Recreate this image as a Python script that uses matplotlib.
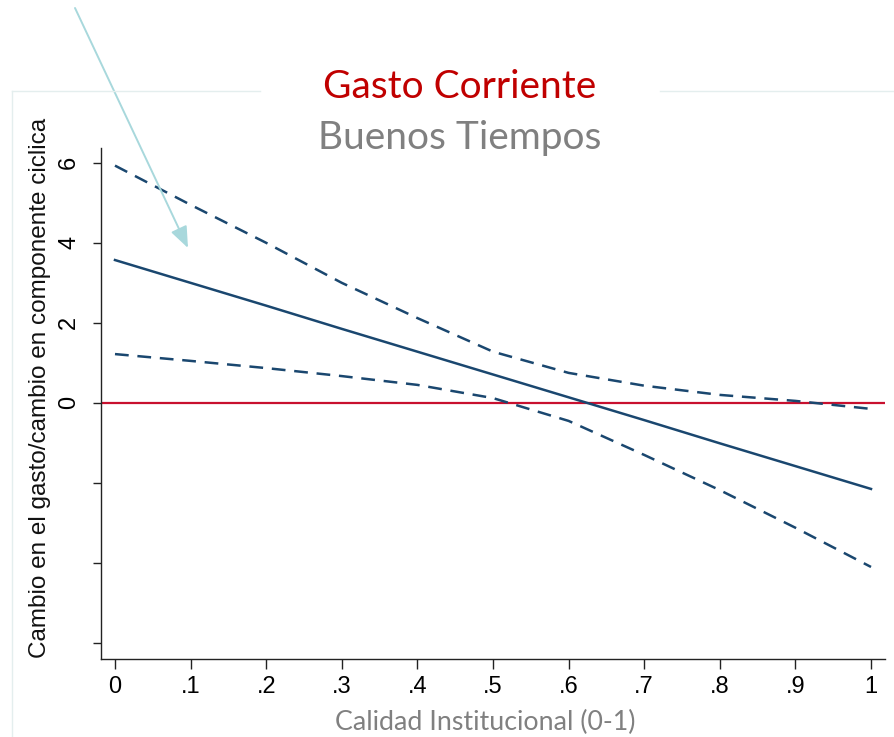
import matplotlib
matplotlib.use("Agg")
import matplotlib.pyplot as plt
from matplotlib.lines import Line2D
from matplotlib.patches import FancyArrowPatch

# Marginal effect of the cyclical component on current spending
calidad = [0.0, 0.1, 0.2, 0.3, 0.4, 0.5, 0.6, 0.7, 0.8, 0.9, 1.0]
efecto = [3.57, 3.00, 2.43, 1.85, 1.28, 0.71, 0.14, -0.43, -1.01, -1.58, -2.15]
ic_sup = [5.93, 4.95, 4.00, 3.00, 2.12, 1.28, 0.75, 0.43, 0.20, 0.05, -0.15]
ic_inf = [1.22, 1.05, 0.87, 0.67, 0.45, 0.12, -0.45, -1.30, -2.18, -3.12, -4.10]

xticks = [0, 0.1, 0.2, 0.3, 0.4, 0.5, 0.6, 0.7, 0.8, 0.9, 1.0]
xtick_labels = ["0", ".1", ".2", ".3", ".4", ".5", ".6", ".7", ".8", ".9", "1"]
yticks = [-6, -4, -2, 0, 2, 4, 6]
ytick_labels = ["", "", "", "0", "2", "4", "6"]

W, H = 895, 737
fig = plt.figure(figsize=(W / 100, H / 100), dpi=100)
fig.patch.set_facecolor("white")

def fx(px):
    return px / W

def fy(py):
    return 1 - py / H

axis_font = ["Liberation Sans Narrow", "Liberation Sans"]
title_font = ["Lato", "DejaVu Sans"]

# light frame around the panel, interrupted behind the title
frame_col = "#e4eeee"
fig.add_artist(Line2D([fx(12), fx(12)], [fy(91), fy(737)], color=frame_col, lw=1.0))
fig.add_artist(Line2D([fx(12), fx(260)], [fy(91), fy(91)], color=frame_col, lw=1.0))
fig.add_artist(Line2D([fx(660), fx(895)], [fy(91), fy(91)], color=frame_col, lw=1.0))

ax = fig.add_axes([fx(101), fy(659), fx(885) - fx(101), fy(148) - fy(659)])
ax.set_xlim(-0.0185, 1.0185)
ax.set_ylim(-6.4, 6.37)

navy = "#1a476f"
ax.axhline(0, color="#c8102e", lw=1.6, zorder=1)
ax.plot(calidad, efecto, color=navy, lw=1.8, zorder=3)
ax.plot(calidad, ic_sup, color=navy, lw=1.8, ls=(0, (5.5, 3.5)), zorder=3)
ax.plot(calidad, ic_inf, color=navy, lw=1.8, ls=(0, (5.5, 3.5)), zorder=3)

for side in ("top", "right"):
    ax.spines[side].set_visible(False)
for side in ("left", "bottom"):
    ax.spines[side].set_color("#222222")
    ax.spines[side].set_linewidth(1.0)

ax.set_xticks(xticks)
ax.set_xticklabels(xtick_labels, fontsize=17, family=axis_font)
ax.set_yticks(yticks)
ax.set_yticklabels(ytick_labels, fontsize=17, family=axis_font,
                   rotation=90, va="center")
ax.tick_params(axis="x", direction="out", length=7, width=1, color="#222222", pad=5)
ax.tick_params(axis="y", direction="out", length=6, width=1, color="#222222", pad=9)

fig.text(fx(40), fy(388), "Cambio en el gasto/cambio en componente ciclica",
         rotation=90, ha="center", va="center", fontsize=17.5,
         family=axis_font, color="#111111")

fig.text(fx(460), fy(87), "Gasto Corriente", ha="center", va="center",
         fontsize=28, family=title_font, color="#c00000")
fig.text(fx(460), fy(138), "Buenos Tiempos", ha="center", va="center",
         fontsize=28, family=title_font, color="#808080")
fig.text(fx(485), fy(722), "Calidad Institucional (0-1)", ha="center", va="center",
         fontsize=19.3, family=title_font, color="#808080")

# pointer arrow
fig.add_artist(FancyArrowPatch(
    (fx(75), fy(8)), (fx(188), fy(248)), transform=fig.transFigure,
    arrowstyle="-|>,head_length=6.5,head_width=2.6", color="#a8d8dc",
    lw=1.4, shrinkA=0, shrinkB=0, mutation_scale=2))

fig.savefig("out.png", dpi=100, facecolor="white")
